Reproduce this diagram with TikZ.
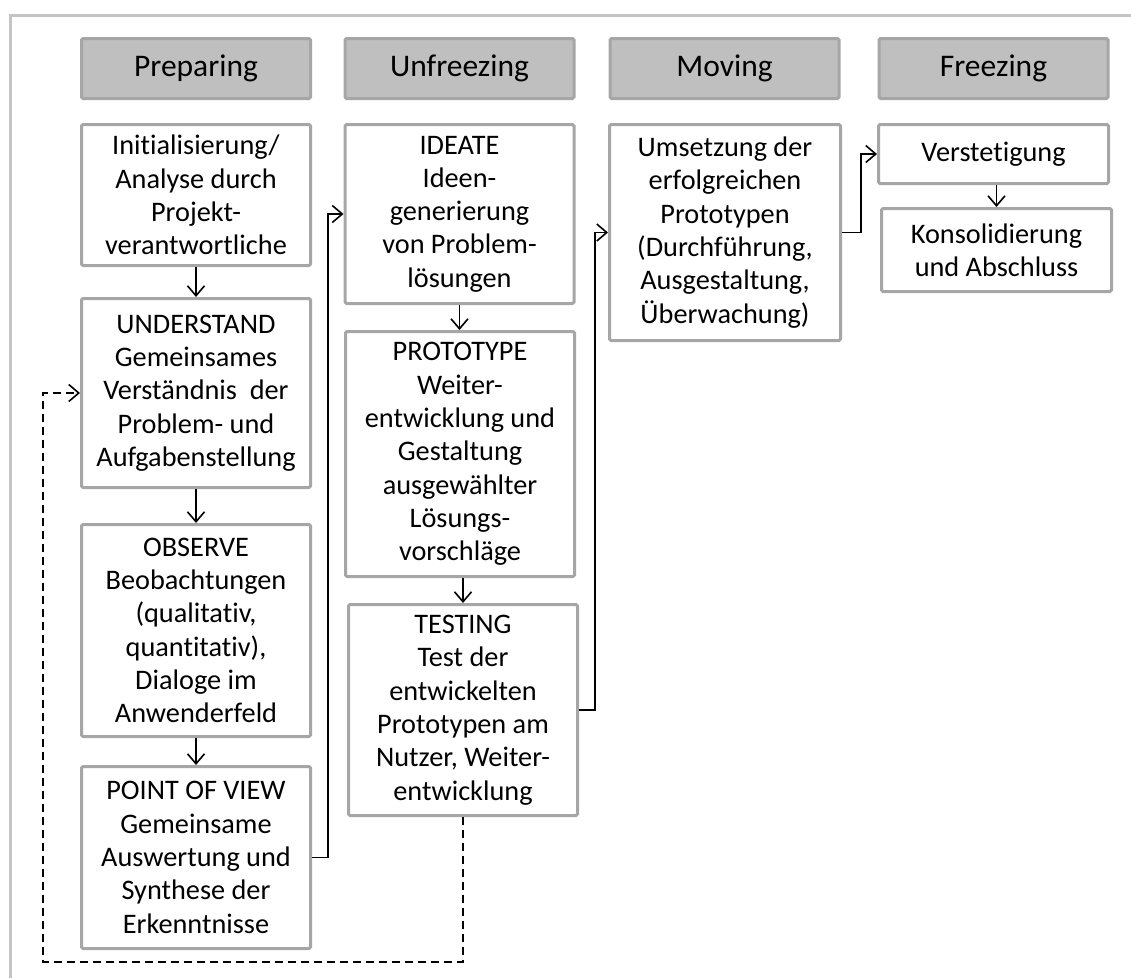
\documentclass[tikz,border=0pt]{standalone}
\usepackage{fontspec}
\setmainfont{Carlito}[Ligatures=NoCommon]
\usetikzlibrary{arrows.meta}
\definecolor{boxline}{HTML}{A6A6A6}
\definecolor{headfill}{HTML}{BFBFBF}
\definecolor{frameline}{HTML}{C4C4C4}

\begin{document}
\begin{tikzpicture}[x=1pt,y=-1pt,
	stepbox/.style={draw=boxline,line width=3pt,fill=white,rounded corners=1.5pt,align=center,
		minimum width=229pt,inner sep=2pt,font=\fontsize{28.3}{33.3}\selectfont},
	phase/.style={stepbox,fill=headfill,minimum height=60pt,font=\fontsize{31.5}{36}\selectfont},
	flow/.style={line width=1.6pt,-{Straight Barb[length=10pt,width=17pt]}},
	back/.style={flow,dash pattern=on 8pt off 5pt}]
			\useasboundingbox (0,0) rectangle (1131,978);
			\draw[frameline,line width=3pt] (10,978) -- (10,15) -- (1131,15);

			% phases
			\node[phase] (prep) at (196,68.5) {Preparing};
			\node[phase] (unfr) at (459.5,68.5) {Unfreezing};
			\node[phase] (mov) at (724.5,68.5) {Moving};
			\node[phase] (frz) at (993.5,68.5) {Freezing};

			% preparing
			\node[stepbox,minimum height=141pt] (init) at (196,195) {Initialisierung/\\Analyse durch\\Projekt-\\verantwortliche};
			\node[stepbox,minimum height=189pt] (und) at (196,393) {UNDERSTAND\\Gemeinsames\\Verständnis~ der\\Problem- und\\Aufgabenstellung};
			\node[stepbox,minimum height=212pt] (obs) at (196,630.5) {OBSERVE\\Beobachtungen\\(qualitativ,\\quantitativ),\\Dialoge im\\Anwenderfeld};
			\node[stepbox,minimum height=182pt] (pov) at (196,857.5) {POINT OF VIEW\\Gemeinsame\\Auswertung und\\Synthese der\\Erkenntnisse};

			% unfreezing
			\node[stepbox,minimum height=179pt] (idea) at (459.5,214) {IDEATE\\Ideen-\\generierung\\von Problem-\\lösungen};
			\node[stepbox,minimum height=245pt] (proto) at (460,454) {PROTOTYPE\\Weiter-\\entwicklung und\\Gestaltung\\ausgewählter\\Lösungs-\\vorschläge};
			\node[stepbox,minimum height=211pt] (test) at (463,710) {TESTING\\Test der\\entwickelten\\Prototypen am\\Nutzer, Weiter-\\entwicklung};

			% moving, freezing
			\node[stepbox,minimum height=216pt,minimum width=231pt] (ums) at (725,232.5) {Umsetzung der\\erfolgreichen\\Prototypen\\(Durchführung,\\Ausgestaltung,\\Überwachung)};
			\node[stepbox,minimum height=59pt,minimum width=230pt] (verst) at (993.5,154) {Verstetigung};
			\node[stepbox,minimum height=83pt,minimum width=230pt] (kons) at (996.5,250) {Konsolidierung\\und Abschluss};

			% arrows
			\draw[flow] (init) -- (und);
			\draw[flow] (und) -- (obs);
			\draw[flow] (obs) -- (pov);
			\draw[flow] (idea.south) -- (idea.south |- proto.north);
			\draw[flow] (test.north |- proto.south) -- (test.north);
			\draw[flow] (kons.north |- verst.south) -- (kons.north);
			\draw[flow] (pov.east) -- ++(16,0) |- (idea.west);
			\draw[flow] (test.east) -- ++(16,0) |- (ums.west);
			\draw[flow] (ums.east) -- ++(19,0) |- (verst.west);

			% loop back
			\coordinate (loop) at (43,962);
			\draw[back] (test.south) |- (loop) |- (und.west);
		\end{tikzpicture}
\end{document}
